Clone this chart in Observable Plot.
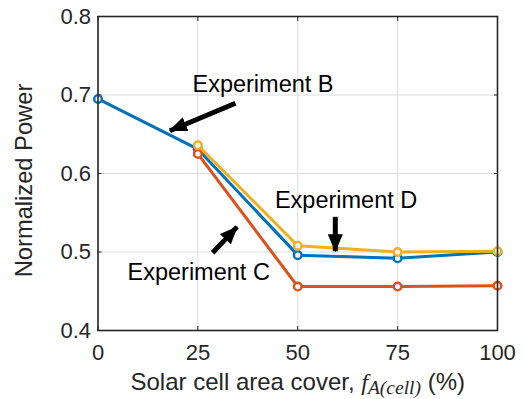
<!DOCTYPE html>
<html>
<head>
<meta charset="utf-8">
<script src="https://cdn.jsdelivr.net/npm/d3@7"></script>
<script src="https://cdn.jsdelivr.net/npm/@observablehq/plot@0.6"></script>
<style>
  html, body { margin: 0; padding: 0; background: #fff; }
  #chart { width: 524px; height: 399px; }
</style>
</head>
<body>
<div id="chart"></div>
<script>
// ---- data ----
const cover = [0, 25, 50, 75, 100];
const expB = [0.695, 0.631, 0.496, 0.492, 0.500];
const expC = [null, 0.625, 0.456, 0.456, 0.457];
const expD = [null, 0.636, 0.508, 0.500, 0.501];
const seriesNames = ["Experiment B", "Experiment C", "Experiment D"];
const seriesColors = ["#0072BD", "#D95319", "#EDB120"];
const xTicks = [0, 25, 50, 75, 100];
const yTicks = [0.4, 0.5, 0.6, 0.7, 0.8];

// annotation text + arrows (data units)
const noteText = ["Experiment B", "Experiment C", "Experiment D"];
const noteX = [41.3, 25.2, 62.1];
const noteY = [0.713, 0.474, 0.566];
const arrowX1 = [34.4, 28.7, 59.4];
const arrowY1 = [0.6895, 0.499, 0.5448];
const arrowX2 = [18.0, 34.8, 59.4];
const arrowY2 = [0.6545, 0.532, 0.501];

const allSeries = [expB, expC, expD];
const rows = [];
allSeries.forEach((vals, s) => vals.forEach((v, i) => {
  if (v != null) rows.push({series: seriesNames[s], x: cover[i], y: v});
}));
const notes = noteText.map((t, i) => ({t, x: noteX[i], y: noteY[i]}));
const arrows = arrowX1.map((_, i) => ({x1: arrowX1[i], y1: arrowY1[i], x2: arrowX2[i], y2: arrowY2[i]}));

function filledHead(color, context) {
  const doc = (context && context.document) || document;
  const m = d3.select(doc.createElementNS("http://www.w3.org/2000/svg", "marker"))
    .attr("viewBox", "-9 -8 18 16")
    .attr("markerWidth", 18).attr("markerHeight", 16)
    .attr("refX", 8).attr("refY", 0)
    .attr("orient", "auto")
    .attr("markerUnits", "userSpaceOnUse")
    .attr("fill", color).attr("stroke", "none");
  m.append("path").attr("d", "M-9,-7.5L9,0L-9,7.5Z");
  return m.node();
}

const font = "'Liberation Sans', Arial, Helvetica, sans-serif";
const serif = "'Liberation Serif', 'DejaVu Serif', serif";
const axisColor = "#262626";

const marks = [
  Plot.gridX(xTicks, {stroke: "#dcdcdc", strokeOpacity: 1, strokeWidth: 1}),
  Plot.gridY(yTicks, {stroke: "#dcdcdc", strokeOpacity: 1, strokeWidth: 1}),
  Plot.axisX(xTicks, {anchor: "bottom", tickSize: -4, tickPadding: 18, stroke: axisColor, fill: axisColor, fontSize: 22, label: null}),
  Plot.axisX(xTicks, {anchor: "top", tickSize: -4, stroke: axisColor, text: null, label: null}),
  Plot.axisY(yTicks, {anchor: "left", tickSize: -4, tickPadding: 11, stroke: axisColor, fill: axisColor, fontSize: 22, tickFormat: d3.format(".1f"), label: null}),
  Plot.axisY(yTicks, {anchor: "right", tickSize: -4, stroke: axisColor, text: null, label: null}),
];
seriesNames.forEach((name, s) => {
  const data = rows.filter(d => d.series === name);
  marks.push(Plot.line(data, {x: "x", y: "y", stroke: seriesColors[s], strokeWidth: 3}));
  marks.push(Plot.dot(data, {x: "x", y: "y", r: 3.8, stroke: seriesColors[s], strokeWidth: 2.4, fill: "#f4f4f4"}));
});
marks.push(Plot.frame({stroke: axisColor, strokeWidth: 1.6}));
marks.push(Plot.link(arrows, {x1: "x1", y1: "y1", x2: "x2", y2: "y2", stroke: "black", strokeWidth: 5, markerEnd: filledHead}));
marks.push(Plot.text(notes, {x: "x", y: "y", text: "t", fontSize: 23.5, fill: "black", fontFamily: font}));
marks.push(Plot.text(["Normalized Power"], {frameAnchor: "left", textAnchor: "middle", lineAnchor: "middle", dx: -74, dy: 7, rotate: -90, fontSize: 23.7, fill: axisColor, fontFamily: font}));
marks.push(Plot.text(["Solar cell area cover, f"], {frameAnchor: "bottom", lineAnchor: "middle", dy: 52, fontSize: 24, fill: axisColor, fontFamily: font, className: "xlabel"}));

const chart = Plot.plot({
  width: 524,
  height: 399,
  marginLeft: 97.5,
  marginRight: 27,
  marginTop: 16,
  marginBottom: 69,
  style: {fontFamily: font, background: "white", overflow: "visible"},
  x: {domain: [0, 100], label: null},
  y: {domain: [0.4, 0.8], label: null},
  marks
});
document.getElementById("chart").appendChild(chart);

// build the x label with the italic subscripted term
const lab = d3.select(chart).select("g.xlabel text");
if (!lab.empty()) {
  lab.text(null);
  lab.append("tspan").text("Solar cell area cover, ");
  lab.append("tspan").attr("font-family", serif).attr("font-style", "italic").attr("font-size", 24).text("f");
  lab.append("tspan").attr("font-family", serif).attr("font-style", "italic").attr("font-size", 19.5).attr("dy", 4).text("A(cell)");
  lab.append("tspan").attr("dy", -4).text(" (%)");
}
</script>
</body>
</html>
